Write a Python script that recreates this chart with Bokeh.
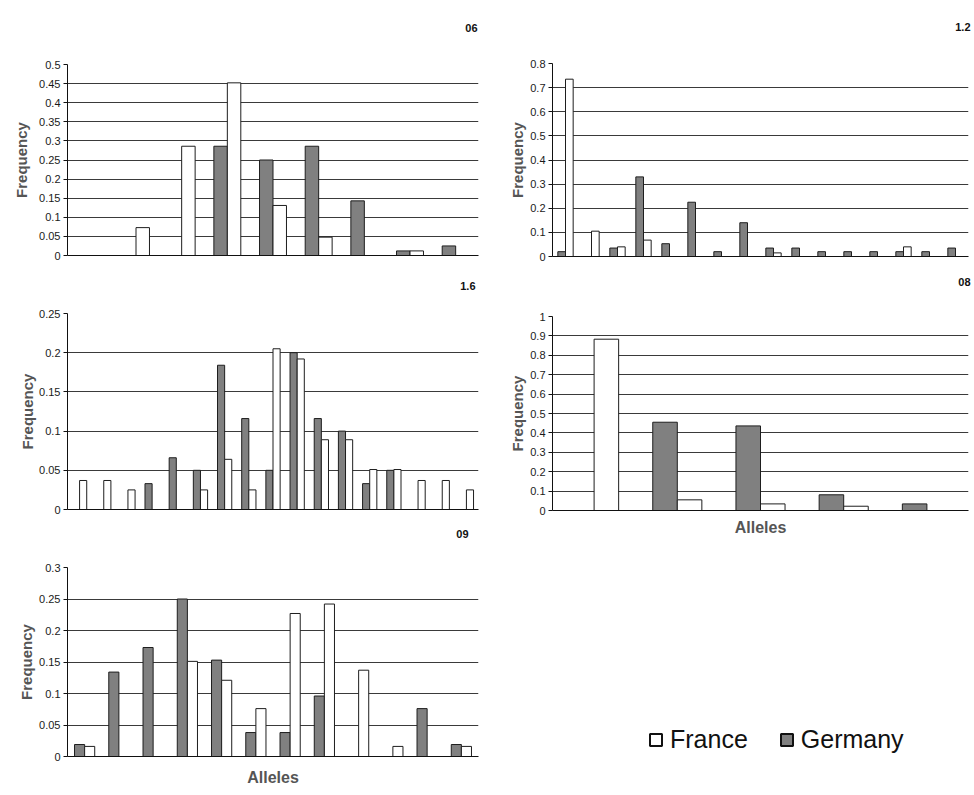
from bokeh.plotting import figure
from bokeh.layouts import row, column
from bokeh.models import Range1d, FixedTicker, CustomJSTickFormatter, Legend, LegendItem, Title
from bokeh.embed import file_html
from bokeh.resources import INLINE

# ---------------- data ----------------
titles = ["06", "1.2", "1.6", "08", "09"]

germany_06 = [0, 0, 0, 0.286, 0.25, 0.286, 0.143, 0.012, 0.025]
france_06 = [0, 0.073, 0.286, 0.452, 0.131, 0.048, 0, 0.012, 0]
yticks_06 = [0, 0.05, 0.1, 0.15, 0.2, 0.25, 0.3, 0.35, 0.4, 0.45, 0.5]

germany_12 = [0.02, 0, 0.035, 0.33, 0.053, 0.225, 0.02, 0.14, 0.035, 0.035,
              0.02, 0.02, 0.02, 0.02, 0.02, 0.035]
france_12 = [0.735, 0.105, 0.04, 0.068, 0, 0, 0, 0, 0.015, 0,
             0, 0, 0, 0.04, 0, 0]
yticks_12 = [0, 0.1, 0.2, 0.3, 0.4, 0.5, 0.6, 0.7, 0.8]

germany_16 = [0, 0, 0, 0.033, 0.066, 0.05, 0.184, 0.116, 0.05, 0.2, 0.116,
              0.1, 0.033, 0.05, 0, 0, 0]
france_16 = [0.037, 0.037, 0.025, 0, 0, 0.025, 0.064, 0.025, 0.205, 0.192,
             0.089, 0.089, 0.051, 0.051, 0.037, 0.037, 0.025]
yticks_16 = [0, 0.05, 0.1, 0.15, 0.2, 0.25]

germany_08 = [0, 0.455, 0.436, 0.081, 0.034]
france_08 = [0.883, 0.055, 0.034, 0.022, 0]
yticks_08 = [0, 0.1, 0.2, 0.3, 0.4, 0.5, 0.6, 0.7, 0.8, 0.9, 1]

germany_09 = [0.019, 0.134, 0.173, 0.25, 0.153, 0.038, 0.038, 0.096, 0, 0, 0.076, 0.019]
france_09 = [0.016, 0, 0, 0.151, 0.121, 0.076, 0.227, 0.242, 0.137, 0.016, 0, 0.016]
yticks_09 = [0, 0.05, 0.1, 0.15, 0.2, 0.25, 0.3]

series_names = ["France", "Germany"]
y_label = "Frequency"
x_label = "Alleles"

# ---------------- style ----------------
BW = 0.295
GER_FILL = "#808080"
FRA_FILL = "#ffffff"
EDGE = "#1e1e1e"
FONT = "Liberation Sans"


def panel(name, germany, france, yticks, gridticks, w, h, bl, br, bt, bb,
          lab_standoff, title_gap, title_offset, xlabel=None, xlab_standoff=0):
    n = len(germany)
    p = figure(width=w, height=h, output_backend="svg", toolbar_location=None,
               x_range=Range1d(-0.5, n - 0.5), y_range=Range1d(0, yticks[-1]),
               min_border_left=bl, min_border_right=br,
               min_border_top=bt, min_border_bottom=bb, title=None)
    gx = [i - BW / 2 for i, v in enumerate(germany) if v > 0]
    gy = [v for v in germany if v > 0]
    fx = [i + BW / 2 for i, v in enumerate(france) if v > 0]
    fy = [v for v in france if v > 0]
    p.vbar(x=gx, top=gy, width=BW, fill_color=GER_FILL, line_color=EDGE, line_width=1)
    p.vbar(x=fx, top=fy, width=BW, fill_color=FRA_FILL, line_color=EDGE, line_width=1)

    p.outline_line_color = None
    p.background_fill_color = "white"
    p.border_fill_color = "white"

    # invisible spacer next to the frame, then the panel title above it
    p.add_layout(Title(text=" ", text_font_size="1px", text_color="white",
                       standoff=title_gap), "above")
    p.add_layout(Title(text=name, align="right", offset=title_offset, standoff=0,
                       vertical_align="bottom", text_font=FONT, text_font_size="11px",
                       text_font_style="bold", text_color="#111111"), "above")

    p.xgrid.visible = False
    p.ygrid.ticker = FixedTicker(ticks=gridticks)
    p.ygrid.grid_line_color = "#3a3a3a"
    p.ygrid.grid_line_width = 1

    ya = p.yaxis[0]
    ya.ticker = FixedTicker(ticks=yticks)
    ya.formatter = CustomJSTickFormatter(code="return tick.toString();")
    ya.axis_line_color = "#111111"
    ya.major_tick_line_color = "#111111"
    ya.major_tick_out = 4
    ya.major_tick_in = 0
    ya.minor_tick_line_color = None
    ya.major_label_text_font = FONT
    ya.major_label_text_font_size = "11px"
    ya.major_label_text_color = "#1a1a1a"
    ya.major_label_standoff = 3
    ya.axis_label = y_label
    ya.axis_label_text_font = FONT
    ya.axis_label_text_font_size = "15px"
    ya.axis_label_text_font_style = "bold"
    ya.axis_label_text_color = "#555555"
    ya.axis_label_standoff = lab_standoff

    xa = p.xaxis[0]
    xa.ticker = FixedTicker(ticks=[])
    xa.axis_line_color = "#111111"
    xa.major_tick_line_color = None
    xa.minor_tick_line_color = None
    xa.major_label_text_font_size = "0px"
    xa.major_label_standoff = 0
    if xlabel:
        xa.axis_label = xlabel
        xa.axis_label_text_font = FONT
        xa.axis_label_text_font_size = "16px"
        xa.axis_label_text_font_style = "bold"
        xa.axis_label_text_color = "#555555"
        xa.axis_label_standoff = xlab_standoff
    return p


p06 = panel(titles[0], germany_06, france_06, yticks_06, yticks_06[:-1],
            505, 268, 67, 23, 64, 13, 6, 30, 1)
p12 = panel(titles[1], germany_12, france_12, yticks_12, yticks_12[:-1],
            469, 268, 44, 6, 63, 12, 1, 30, -2)
p16 = panel(titles[2], germany_16, france_16, yticks_16, yticks_16,
            505, 254, 61, 23, 45, 13, 0, 21, 3)
p08 = panel(titles[3], germany_08, france_08, yticks_08, yticks_08,
            469, 277, 47, 6, 48, 35, 1, 28, -2, xlabel=x_label, xlab_standoff=8)
p09 = panel(titles[4], germany_09, france_09, yticks_09, yticks_09,
            505, 273, 63, 27, 45, 39, 1, 27, 10, xlabel=x_label, xlab_standoff=12)

# legend panel
pleg = figure(width=469, height=250, output_backend="svg", toolbar_location=None,
              x_axis_type=None, y_axis_type=None, min_border=0,
              x_range=Range1d(0, 1), y_range=Range1d(0, 1))
pleg.outline_line_color = None
pleg.xgrid.visible = False
pleg.ygrid.visible = False
rf = pleg.vbar(x=[float("nan")], top=[float("nan")], width=0.1, fill_color=FRA_FILL,
               line_color="#111111", line_width=2)
rg = pleg.vbar(x=[float("nan")], top=[float("nan")], width=0.1, fill_color=GER_FILL,
               line_color="#111111", line_width=2)
leg = Legend(items=[LegendItem(label=series_names[0], renderers=[rf]),
                    LegendItem(label=series_names[1], renderers=[rg])],
             orientation="horizontal", location=(96, 41))
leg.border_line_color = None
leg.background_fill_alpha = 0
leg.padding = 0
leg.margin = 0
leg.spacing = 31
leg.label_standoff = 7
leg.glyph_width = 15
leg.glyph_height = 15
leg.label_text_font = FONT
leg.label_text_font_size = "25px"
leg.label_text_color = "#111111"
pleg.add_layout(leg, "center")

layout = row(column(p06, p16, p09), column(p12, p08, pleg))

with open("out.html", "w") as f:
    f.write(file_html(layout, INLINE))
